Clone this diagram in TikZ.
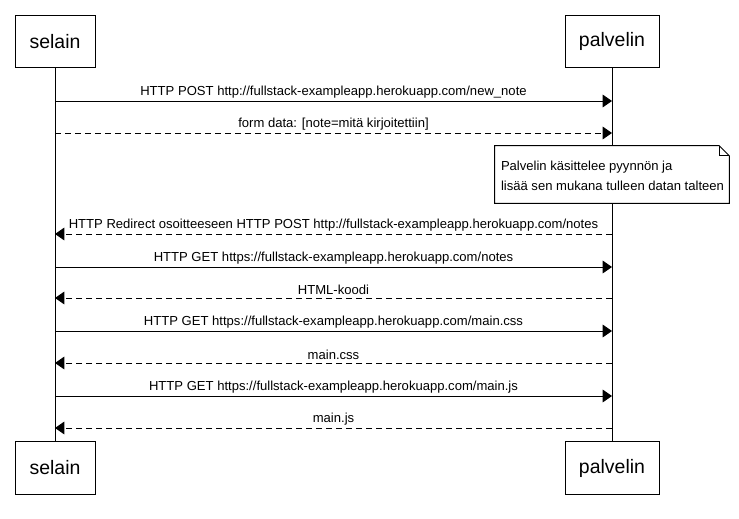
\documentclass[tikz,border=0pt]{standalone}
\usepackage{fontspec}
\setmainfont{Liberation Sans}
\usetikzlibrary{arrows.meta}

\begin{document}
\begin{tikzpicture}[x=0.75pt, y=-0.75pt]
		\tikzstyle{actor}=[rectangle, draw, line width=0.75pt, minimum width=60pt, minimum height=39.5pt, font=\fontsize{14.6}{17}\selectfont]
		\tikzstyle{msg}=[line width=0.75pt, -{Triangle[length=7pt, width=9.5pt]}]
		\tikzstyle{reply}=[msg, dash pattern=on 4.5pt off 3pt]
		\tikzstyle{txt}=[above, inner sep=2pt, font=\fontsize{9.8}{11}\selectfont]

		\useasboundingbox (0,0) rectangle (739,518);

		\node[actor] (selainTop) at (55,41.5) {selain};
		\node[actor, minimum width=70.5pt] (palvelinTop) at (612,41.5) {palvelin};
		\node[actor] (selainBottom) at (55,468) {selain};
		\node[actor, minimum width=70.5pt] (palvelinBottom) at (612,468) {palvelin};

		\draw[line width=0.75pt] (selainTop) -- (selainBottom);
		\draw[line width=0.75pt] (palvelinTop) -- (palvelinBottom);

		% message rows
		\coordinate (s1) at (55,101);   \coordinate (p1) at (612,101);
		\coordinate (s2) at (55,133);   \coordinate (p2) at (612,133);
		\coordinate (s3) at (55,234);   \coordinate (p3) at (612,234);
		\coordinate (s4) at (55,267);   \coordinate (p4) at (612,267);
		\coordinate (s5) at (55,298);   \coordinate (p5) at (612,298);
		\coordinate (s6) at (55,331);   \coordinate (p6) at (612,331);
		\coordinate (s7) at (55,363);   \coordinate (p7) at (612,363);
		\coordinate (s8) at (55,396);   \coordinate (p8) at (612,396);
		\coordinate (s9) at (55,428);   \coordinate (p9) at (612,428);

		\draw[msg] (s1) -- (p1) node[txt, midway] {HTTP POST http://fullstack-exampleapp.herokuapp.com/new\_note};
		\draw[reply] (s2) -- (p2) node[txt, midway] {form data: [note=mitä kirjoitettiin]};

		\node[minimum width=175.5pt, minimum height=42.75pt] (note) at (612,174.5) {};
		\draw[line width=0.75pt, fill=white] (note.north west) -- ([xshift=-7.5pt]note.north east) -- ([yshift=-7.5pt]note.north east) -- (note.south east) -- (note.south west) -- cycle;
		\draw[line width=0.75pt] ([xshift=-7.5pt]note.north east) -- ([xshift=-7.5pt, yshift=-7.5pt]note.north east) -- ([yshift=-7.5pt]note.north east);
		\node[align=left, anchor=west, inner sep=0pt, font=\fontsize{9.8}{15}\selectfont] (noteText) at ([xshift=4.5pt, yshift=-1pt]note.west) {Palvelin käsittelee pyynnön ja\\lisää sen mukana tulleen datan talteen};

		\draw[reply] (p3) -- (s3) node[txt, midway] {HTTP Redirect osoitteeseen HTTP POST http://fullstack-exampleapp.herokuapp.com/notes};
		\draw[msg] (s4) -- (p4) node[txt, midway] {HTTP GET https://fullstack-exampleapp.herokuapp.com/notes};
		\draw[reply] (p5) -- (s5) node[txt, midway] {HTML-koodi};
		\draw[msg] (s6) -- (p6) node[txt, midway] {HTTP GET https://fullstack-exampleapp.herokuapp.com/main.css};
		\draw[reply] (p7) -- (s7) node[txt, midway] {main.css};
		\draw[msg] (s8) -- (p8) node[txt, midway] {HTTP GET https://fullstack-exampleapp.herokuapp.com/main.js};
		\draw[reply] (p9) -- (s9) node[txt, midway] {main.js};

	\end{tikzpicture}
\end{document}
